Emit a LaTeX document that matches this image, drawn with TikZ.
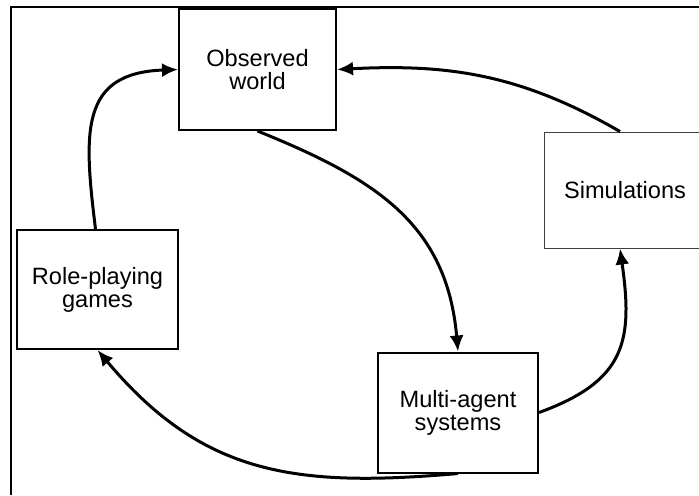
\documentclass[tikz,border=0pt]{standalone}
\usepackage{fontspec}
\setmainfont{Liberation Sans}
\usetikzlibrary{arrows.meta}

\begin{document}
\begin{tikzpicture}[x=0.5pt, y=0.5pt,
        box/.style={draw, line width=1pt, align=center, inner sep=0pt,
            font=\fontsize{11.8}{11.5}\selectfont},
        flow/.style={line width=1.5pt, -{Latex[length=8pt,width=7pt]}}]
        \useasboundingbox (0,0) rectangle (699,-495);

        % Outer frame
        \draw[line width=1pt] (11,-495) -- (11,-7) -- (705,-7);

        % Boxes
        \node[box, minimum width=78.5pt, minimum height=60.5pt] (obs) at (257.5,-69.5) {Observed\\world};
        \node[box, draw=black!75, line width=0.5pt, minimum width=81pt, minimum height=58pt] (sim) at (625,-190) {Simulations};
        \node[box, minimum width=80.5pt, minimum height=59.5pt] (rpg) at (97.5,-289.5) {Role-playing\\games};
        \node[box, minimum width=80pt, minimum height=60pt] (mas) at (458,-412.5) {Multi-agent\\systems};

        % Cycle arrows
        \draw[flow] ([xshift=-1pt]rpg.north) to[out=97, in=182, looseness=1.4] (obs.west);
        \draw[flow] ([xshift=-2.5pt]sim.north) to[out=150, in=3] (obs.east);
        \draw[flow] (obs.south) to[out=-22, in=95, looseness=1.1] (mas.north);
        \draw[flow] (mas.east) to[out=20, in=-82, looseness=1.3] ([xshift=-2.5pt]sim.south);
        \draw[flow] (mas.south) to[out=185, in=-50, looseness=1.1] (rpg.south);
    \end{tikzpicture}
\end{document}
